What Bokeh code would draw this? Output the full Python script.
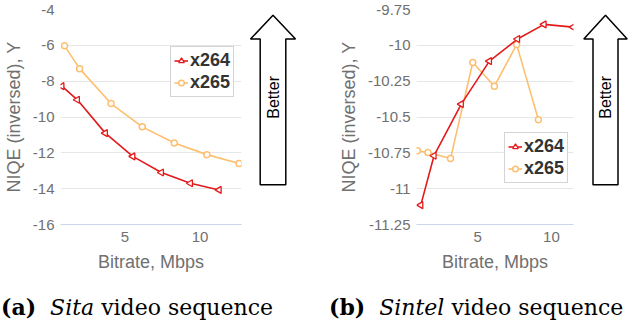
import math
from bokeh.plotting import figure
from bokeh.models import Range1d, FixedTicker, NumeralTickFormatter, Legend, LegendItem, Div
from bokeh.layouts import row, column
from bokeh.core.properties import value
from bokeh.embed import file_html
from bokeh.resources import INLINE

# ---------------- data ----------------
sita_x264_rate = [0.81, 1.84, 3.70, 5.53, 7.43, 9.36, 11.27]
sita_x264_niqe = [-8.28, -9.04, -10.90, -12.20, -13.10, -13.70, -14.07]
sita_x265_rate = [0.99, 1.99, 4.08, 6.16, 8.29, 10.46, 12.60]
sita_x265_niqe = [-6.03, -7.30, -9.25, -10.55, -11.45, -12.10, -12.60]

sintel_x264_rate = [1.13, 2.03, 3.88, 5.79, 7.70, 9.50, 11.47]
sintel_x264_niqe = [-11.115, -10.77, -10.41, -10.11, -9.956, -9.854, -9.873]
sintel_x265_rate = [0.90, 1.62, 3.15, 4.66, 6.13, 7.64, 9.12]
sintel_x265_niqe = [-10.736, -10.748, -10.79, -10.12, -10.285, -9.995, -10.52]

sita_yticks = [-16, -14, -12, -10, -8, -6, -4]
sintel_yticks = [-11.25, -11, -10.75, -10.5, -10.25, -10, -9.75]
xticks = [5, 10]
series_names = ["x264", "x265"]
x_title = "Bitrate, Mbps"
y_title = "NIQE (inversed), Y"
arrow_text = "Better"

# ---------------- style ----------------
FONT = "Liberation Sans"
RED = "#e31a1c"
ORANGE = "#fdbf6f"
GRAY = "#707070"
H = 274


def make_panel(width, min_left, min_right, xr, yr, yticks, s264, s265, legend_loc):
    p = figure(width=width, height=H, output_backend="svg", toolbar_location=None,
               x_range=Range1d(*xr), y_range=Range1d(*yr),
               min_border_left=min_left, min_border_right=min_right,
               min_border_top=9, min_border_bottom=10)
    p.outline_line_color = None
    p.background_fill_color = "white"
    p.border_fill_color = "white"
    p.xgrid.grid_line_color = None
    p.ygrid.grid_line_color = "#e6e6e6"
    p.ygrid.ticker = FixedTicker(ticks=yticks)
    p.yaxis.ticker = FixedTicker(ticks=yticks)
    p.xaxis.ticker = FixedTicker(ticks=xticks)
    p.yaxis.formatter = NumeralTickFormatter(format="0.[00]")
    for ax in (p.xaxis[0], p.yaxis[0]):
        ax.major_tick_line_color = None
        ax.minor_tick_line_color = None
        ax.major_tick_out = 0
        ax.major_tick_in = 0
        ax.minor_tick_out = 0
        ax.minor_tick_in = 0
        ax.major_label_text_font = FONT
        ax.major_label_text_font_size = "15px"
        ax.major_label_text_color = GRAY
        ax.axis_label_text_font = FONT
        ax.axis_label_text_font_size = "18px"
        ax.axis_label_text_font_style = "normal"
        ax.axis_label_text_color = GRAY
    p.xaxis.axis_label = x_title
    p.yaxis.axis_label = y_title
    p.xaxis.axis_line_color = "#ccd6eb"
    p.xaxis.axis_line_width = 1
    p.yaxis.axis_line_color = None
    p.xaxis.major_label_standoff = 7
    p.xaxis.axis_label_standoff = 7
    p.yaxis.major_label_standoff = 6
    p.yaxis.axis_label_standoff = 6

    l2 = p.line(s265[0], s265[1], line_color=ORANGE, line_width=1.6)
    m2 = p.scatter(s265[0], s265[1], marker="circle", size=6, line_color=ORANGE,
                   line_width=1.5, fill_color="white")
    l1 = p.line(s264[0], s264[1], line_color=RED, line_width=1.6)
    m1 = p.scatter(s264[0], s264[1], marker="triangle", angle=math.pi / 2, size=7,
                   line_color=RED, line_width=1.3, fill_color="white")

    legend = Legend(items=[LegendItem(label=series_names[0], renderers=[l1, m1]),
                           LegendItem(label=series_names[1], renderers=[l2, m2])],
                    location=legend_loc, label_text_font=FONT, label_text_font_style="bold",
                    label_text_font_size="18px", label_text_color="#333333",
                    border_line_color="#aaaaaa", border_line_width=1.5,
                    background_fill_color="white", background_fill_alpha=1.0,
                    padding=3, spacing=1, glyph_width=14, glyph_height=21,
                    label_height=21, label_standoff=2, margin=0)
    p.add_layout(legend)
    return p


def make_arrow(width, cx, hw_head, hw_shaft, tip, base, bottom, text_mid):
    a = figure(width=width, height=H, output_backend="svg", toolbar_location=None,
               x_range=Range1d(0, width), y_range=Range1d(0, H),
               x_axis_location=None, y_axis_location=None, min_border=0)
    a.grid.visible = False
    a.outline_line_color = None
    a.border_fill_color = "white"
    xs = [cx, cx + hw_head, cx + hw_shaft, cx + hw_shaft, cx - hw_shaft, cx - hw_shaft, cx - hw_head]
    ys = [H - tip, H - base, H - base, H - bottom, H - bottom, H - base, H - base]
    a.patch(xs, ys, fill_color="white", line_color="black", line_width=1.5)
    a.text(x=[cx], y=[H - text_mid], text=[arrow_text], angle=math.pi / 2,
           text_align="center", text_baseline="middle", text_font=value(FONT),
           text_font_size="16px", text_color="black")
    return a


pA = make_panel(244, 20, 3, (0.72, 12.76), (-16, -4), sita_yticks,
                (sita_x264_rate, sita_x264_niqe), (sita_x265_rate, sita_x265_niqe), (110, 127))
aA = make_arrow(62, 28.5, 22.5, 12.8, 7.3, 37.7, 223.5, 112)
pB = make_panel(268, 110, 1, (0.84, 11.5), (-11.25, -9.75), sintel_yticks,
                (sintel_x264_rate, sintel_x264_niqe), (sintel_x265_rate, sintel_x265_niqe), (88, 41))
aB = make_arrow(54, 31, 21.7, 12.5, 7.3, 37.7, 223.5, 112)

cap_html = """<div style="position:relative;width:628px;height:50px;font-family:'DejaVu Serif';font-size:22px;color:#000;white-space:nowrap;">
<span style="position:absolute;left:1px;top:18px;"><b>(a)</b>&nbsp;&nbsp;<i>Sita</i> video sequence</span>
<span style="position:absolute;left:329px;top:18px;"><b>(b)</b>&nbsp;&nbsp;<i>Sintel</i> video sequence</span></div>"""
caption = Div(text=cap_html, width=628, height=50, margin=0)

layout = column(row(pA, aA, pB, aB), caption)

open("out.html", "w").write(file_html(layout, INLINE))
